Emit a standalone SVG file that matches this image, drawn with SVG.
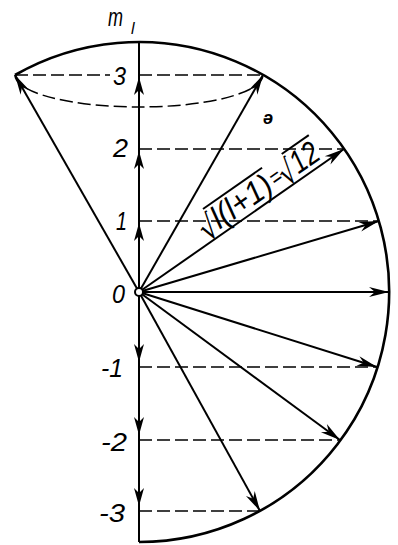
<svg xmlns="http://www.w3.org/2000/svg" width="398" height="545" viewBox="0 0 398 545">
<style>
.ln{stroke:#000;stroke-width:2;fill:none}
.arc{stroke:#000;stroke-width:2.6;fill:none}
.dash{stroke:#000;stroke-width:1.5;fill:none;stroke-dasharray:13 5}
.lbl{font-family:"Liberation Sans",Arial,sans-serif;font-style:italic;font-size:26px;fill:#000}
.rt{font-family:"DejaVu Sans",sans-serif;fill:#000}
</style>
<defs>
<marker id="ah" viewBox="-22 -6 24 12" refX="0" refY="0" markerWidth="24" markerHeight="12" markerUnits="userSpaceOnUse" orient="auto">
<path d="M0,0 L-20,-5 L-14,0 L-20,5 Z" fill="#000"/>
</marker>
<marker id="ax" viewBox="-20 -6 22 12" refX="0" refY="0" markerWidth="22" markerHeight="12" markerUnits="userSpaceOnUse" orient="auto">
<path d="M0,0 L-18,-5 L-13,0 L-18,5 Z" fill="#000"/>
</marker>
</defs>
<rect width="398" height="545" fill="#fff"/>
<g id="sphere">
<path class="arc" d="M15,75 A250,250 0 1 1 139,542"/>
<path class="dash" d="M15,75 A124,32 0 0 0 263,75"/>
</g>
<g id="levels">
<line class="dash" x1="15" y1="75" x2="110" y2="75"/>
<line class="dash" x1="139" y1="75" x2="263" y2="75"/>
<line class="dash" x1="139" y1="149" x2="344" y2="149"/>
<line class="dash" x1="139" y1="221" x2="379" y2="221"/>
<line class="dash" x1="139" y1="367" x2="377" y2="367"/>
<line class="dash" x1="139" y1="440" x2="340" y2="440"/>
<line class="dash" x1="139" y1="511" x2="260" y2="511"/>
</g>
<g id="connectors">
<line class="ln" x1="139" y1="292" x2="139" y2="223" marker-end="url(#ax)"/>
<line class="ln" x1="139" y1="223" x2="139" y2="151" marker-end="url(#ax)"/>
<line class="ln" x1="139" y1="151" x2="139" y2="77" marker-end="url(#ax)"/>
<line class="ln" x1="139" y1="77" x2="139" y2="42"/>
<line class="ln" x1="139" y1="292" x2="139" y2="362" marker-end="url(#ax)"/>
<line class="ln" x1="139" y1="362" x2="139" y2="435" marker-end="url(#ax)"/>
<line class="ln" x1="139" y1="435" x2="139" y2="506" marker-end="url(#ax)"/>
<line class="ln" x1="139" y1="506" x2="139" y2="542"/>
<line class="ln" x1="139" y1="292" x2="15" y2="75" marker-end="url(#ah)"/>
<line class="ln" x1="139" y1="292" x2="263" y2="75" marker-end="url(#ah)"/>
<line class="ln" x1="139" y1="292" x2="344" y2="149" marker-end="url(#ah)"/>
<line class="ln" x1="139" y1="292" x2="379" y2="221" marker-end="url(#ah)"/>
<line class="ln" x1="139" y1="292" x2="389" y2="292" marker-end="url(#ah)"/>
<line class="ln" x1="139" y1="292" x2="377" y2="367" marker-end="url(#ah)"/>
<line class="ln" x1="139" y1="292" x2="340" y2="440" marker-end="url(#ah)"/>
<line class="ln" x1="139" y1="292" x2="260" y2="511" marker-end="url(#ah)"/>
</g>
<g id="origin">
<circle cx="139" cy="292" r="4" fill="#fff" stroke="#000" stroke-width="2"/>
</g>
<g id="labels">
<text class="lbl" style="font-size:26px"><tspan x="108" y="26" textLength="15" lengthAdjust="spacingAndGlyphs">m</tspan><tspan x="131" y="34" style="font-size:16px">l</tspan></text>
<text class="lbl" x="113" y="85" textLength="13" lengthAdjust="spacingAndGlyphs">3</text>
<text class="lbl" x="113" y="157" textLength="15" lengthAdjust="spacingAndGlyphs">2</text>
<text class="lbl" x="116" y="230" textLength="11" lengthAdjust="spacingAndGlyphs">1</text>
<text class="lbl" x="112" y="303" textLength="13" lengthAdjust="spacingAndGlyphs">0</text>
<text class="lbl" x="101" y="377" textLength="22" lengthAdjust="spacingAndGlyphs">-1</text>
<text class="lbl" x="101" y="451" textLength="26" lengthAdjust="spacingAndGlyphs">-2</text>
<text class="lbl" x="99" y="522" textLength="26" lengthAdjust="spacingAndGlyphs">-3</text>
<text class="lbl" x="263" y="124" style="font-size:18px;font-weight:bold">ə</text>
</g>
<g id="formula" transform="translate(139,292) rotate(-34.9)">
<text class="rt" x="85" y="-1" style="font-size:34px" textLength="17" lengthAdjust="spacingAndGlyphs">√</text>
<line x1="100" y1="-31.5" x2="172" y2="-31.5" stroke="#000" stroke-width="2"/>
<text class="lbl" x="102" y="-5" style="font-size:32px" textLength="68" lengthAdjust="spacingAndGlyphs">l(l+1)</text>
<text class="lbl" x="172" y="-8" style="font-size:24px" textLength="11" lengthAdjust="spacingAndGlyphs">=</text>
<text class="rt" x="182" y="-1" style="font-size:34px" textLength="16" lengthAdjust="spacingAndGlyphs">√</text>
<line x1="196" y1="-31.5" x2="229" y2="-31.5" stroke="#000" stroke-width="2"/>
<text class="lbl" x="198" y="-5" style="font-size:32px" textLength="29" lengthAdjust="spacingAndGlyphs">12</text>
</g>
</svg>
